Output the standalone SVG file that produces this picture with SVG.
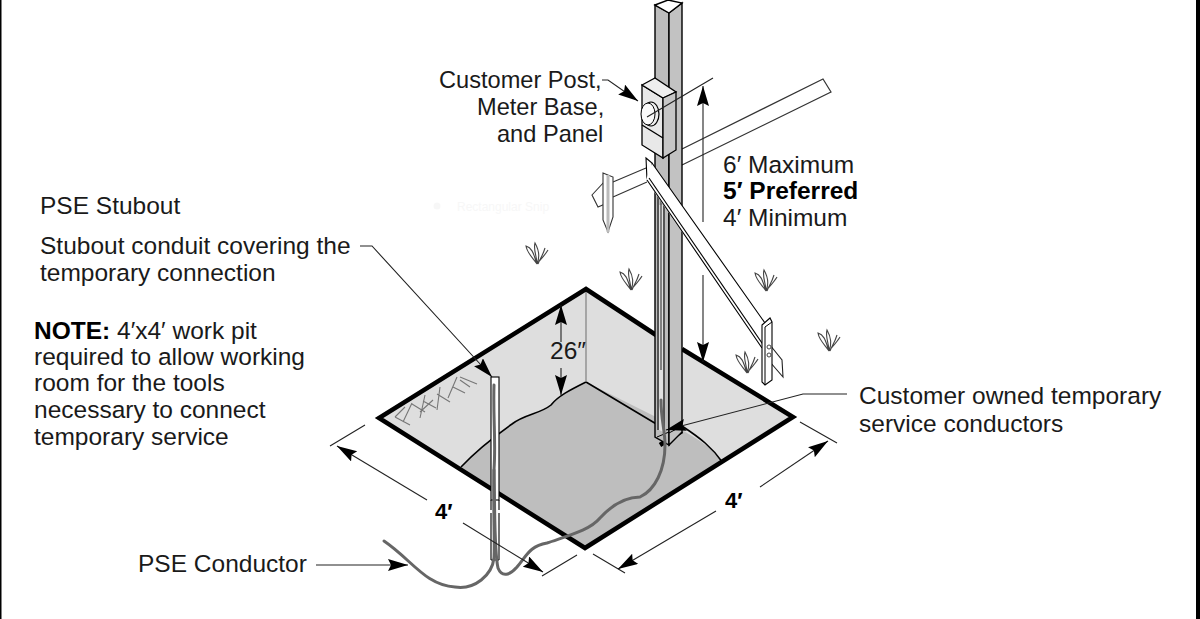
<svg xmlns="http://www.w3.org/2000/svg" width="1200" height="619" viewBox="0 0 1200 619">
<style>
text{font-family:"Liberation Sans",Arial,sans-serif;font-size:24.5px;fill:#1a1a1a}
.m{font-size:23.6px}
.b{font-weight:bold;fill:#000}
.k{fill:none;stroke:#000;stroke-width:1.4}
.d{fill:none;stroke:#222;stroke-width:1.1}
.e{fill:none;stroke:#000;stroke-width:4.5;stroke-linejoin:miter}
.w{fill:none;stroke:#666;stroke-width:3;stroke-linecap:round}
.g{fill:none;stroke:#777;stroke-width:1.1}
</style>
<defs>
<marker id="ah" markerUnits="userSpaceOnUse" markerWidth="22" markerHeight="14" refX="20" refY="6" orient="auto"><path d="M0 0L20 6L0 12L3 6Z" fill="#000"/></marker>
<g id="tuft"><path d="M-11-18C-10-11-4-6 0 0C-3-8-4-16-11-18ZM-2-21C2-14 3-7 0 0C0-8-4-14-2-21ZM11-14C8-9 4-5 0 0M8-16C6-9 3-5 1 0" fill="none" stroke="#444" stroke-width="1.1"/></g>
</defs>
<rect width="1200" height="619" fill="#fff"/>
<rect x="0" y="0" width="1.5" height="619" fill="#000"/>
<rect x="1196" y="0" width="4" height="619" fill="#000"/>
<g id="snip"><circle cx="437" cy="206" r="3.5" fill="#f7f7f7"/><text x="457" y="211" style="font-size:12px;fill:#f7f7f7">Rectangular Snip</text></g>
<g id="pit">
<path d="M586 289L379 418L585 548L793 417Z" fill="#dedede"/>
<path d="M586 382C570 390 558 396 551 405C540 414 525 414 512 424C495 436 475 452 461 467L585 548L723 463C710 445 695 438 682 430Z" fill="#bebebe" stroke="none"/>
<path d="M586 382C570 390 558 396 551 405C540 414 525 414 512 424C495 436 475 452 461 467M586 382L658 425M682 426C700 438 712 447 723 463" fill="none" stroke="#000" stroke-width="1.6"/>
<path d="M586 289V382" class="g"/>
<path d="M395 417L405 407M395 417L410 425M412 403L403 422M425 395L420 418M420 412L433 400M440 387L437 410M457 377L448 398M460 377L477 384M460 380L470 387M453 387L465 393M437 394L450 402M423 401L436 408M412 404L425 412" class="g"/>
<path d="M656 335L586 289L379 418L585 548L793 417L682 349M682 431L660 445" class="e"/>
</g>
<g id="tufts">
<use href="#tuft" x="537" y="264"/>
<use href="#tuft" x="631" y="290"/>
<use href="#tuft" x="766" y="291"/>
<use href="#tuft" x="829" y="351"/>
<use href="#tuft" x="747" y="373"/>
</g>
<g id="rail">
<path d="M682 165L831 92L823 79L682 149Z" fill="#fff" stroke="none"/>
<path d="M682 149L823 79L831 92L682 165" fill="none" stroke="#333" stroke-width="1.2"/>
<path d="M646 168L613 182V197L647 182Z" fill="#fff"/>
<path d="M646 168L613 182M647 182L613 197M605 181L592 195L598 207L605 204" fill="none" stroke="#333" stroke-width="1.1"/>
</g>
<g id="post">
<path d="M655 5L669 13V445L655 437Z" fill="#bdbdbd" stroke="#000" stroke-width="1.4"/>
<path d="M669 13L682 3V432L669 445Z" fill="#c2c2c2" stroke="#000" stroke-width="1.4"/>
<path d="M655 5L668 0L682 3L669 13Z" fill="#fff" stroke="#000" stroke-width="1.4"/>
<path d="M657 205H665V433L657 429Z" fill="#e0e0e0"/>
<path d="M658 180V430M664 180V434" fill="none" stroke="#555" stroke-width="2"/>
<path d="M661 180V370" fill="none" stroke="#222" stroke-width="1"/>
<path d="M669 433L682 426M657 437L669 432" fill="none" stroke="#000" stroke-width="1"/>
</g>
<g id="meter">
<path d="M642 85L663 98V158L642 145Z" fill="#e8e8e8" stroke="#000" stroke-width="1.3"/>
<path d="M642 85L655 78L676 92L663 98Z" fill="#eee" stroke="#000" stroke-width="1.3"/>
<path d="M663 98L676 92V150L663 158Z" fill="#c6c6c6" stroke="#000" stroke-width="1.3"/>
<path d="M642 125L663 138" class="k"/>
<ellipse cx="651" cy="114" rx="8" ry="12" fill="#eee" stroke="#000" stroke-width="1.2"/>
<ellipse cx="648" cy="114" rx="7" ry="11" fill="#fafafa" stroke="#000" stroke-width="1"/>
</g>
<g id="brace">
<path d="M646 158L652 163V183L647 180Z" fill="#fff" stroke="#000" stroke-width="1.1"/>
<path d="M652 163L646 180L762 348L770 330Z" fill="#fff" stroke="none"/>
<path d="M652 163L765 323M647 180L762 348" fill="none" stroke="#000" stroke-width="1.1"/>
<path d="M649 178L764 346" fill="none" stroke="#000" stroke-width="1.1"/>
<path d="M770 345L782 360L783 377L770 362" fill="#fff" stroke="#222" stroke-width="1.1"/>
<path d="M762 325L770 318L772 322V380L765 385L762 382Z" fill="#fff" stroke="#000" stroke-width="1.1"/>
<path d="M765 327V385M765 327L772 322" fill="none" stroke="#000" stroke-width="1"/>
<circle cx="769" cy="347" r="2" fill="none" stroke="#444"/><circle cx="769" cy="355" r="2" fill="none" stroke="#444"/>
<path d="M603 173L613 177V217L608 232L603 220Z" fill="#fff" stroke="#333" stroke-width="1.1"/>
<path d="M608 175V232" stroke="#bbb" fill="none" stroke-width="3"/>
</g>
<g id="stubout">
<rect x="491" y="377" width="8" height="123" fill="#fff" stroke="#000" stroke-width="1.1"/>
<path d="M491 500V510M499 500V510M491 513V560M499 513V560M491 560H499" fill="none" stroke="#000" stroke-width="1.1"/>
</g>
<g id="connectors">
<path class="w" d="M494 385C493 420 496 440 494 470C493 510 495 540 494 558C492 575 475 590 455 587C425 585 412 560 384 541"/>
<path class="w" d="M494 470C495 510 494 550 498 568C502 578 510 575 517 567C527 555 530 546 547 543C570 535 590 530 600 518C612 505 625 497 640 497C655 490 665 470 665 445C665 430 661 420 661 400"/>
<path class="d" d="M602 80H608L638 101" marker-end="url(#ah)"/>
<path class="d" d="M360 246H372L492 377" marker-end="url(#ah)"/>
<path class="d" d="M847 394H803L666 430" marker-end="url(#ah)"/>
<path class="d" d="M316 565H408" marker-end="url(#ah)"/>
<path class="d" d="M703 222V86" marker-end="url(#ah)"/>
<path class="d" d="M703 275V362" marker-end="url(#ah)"/>
<path class="d" d="M647 117L713 78"/>
<path class="d" d="M561 342V305" marker-end="url(#ah)"/>
<path class="d" d="M561 368V395" marker-end="url(#ah)"/>
<path class="d" d="M427 500L337 446" marker-end="url(#ah)"/>
<path class="d" d="M463 523L543 572" marker-end="url(#ah)"/>
<path class="d" d="M330 446L365 425M542 576L577 555M593 554L625 573M800 422L837 443"/>
<path class="d" d="M716 511L618 569" marker-end="url(#ah)"/>
<path class="d" d="M760 487L828 441" marker-end="url(#ah)"/>
</g>
<g id="labels">
<text x="439" y="88" class="m">Customer Post,</text>
<text x="477" y="115" class="m">Meter Base,</text>
<text x="497" y="142" class="m">and Panel</text>
<text x="723" y="173">6′ Maximum</text>
<text x="723" y="199" class="b">5′ Preferred</text>
<text x="723" y="226">4′ Minimum</text>
<text x="40" y="214">PSE Stubout</text>
<text x="40" y="254">Stubout conduit covering the</text>
<text x="40" y="281">temporary connection</text>
<text x="34" y="339"><tspan class="b">NOTE:</tspan> 4′x4′ work pit</text>
<text x="34" y="365">required to allow working</text>
<text x="34" y="391">room for the tools</text>
<text x="34" y="418">necessary to connect</text>
<text x="34" y="445">temporary service</text>
<text x="550" y="359">26″</text>
<text x="859" y="404">Customer owned temporary</text>
<text x="859" y="432">service conductors</text>
<text x="435" y="519" class="b" style="font-size:22px">4′</text>
<text x="725" y="508" class="b" style="font-size:22px">4′</text>
<text x="138" y="572">PSE Conductor</text>
</g>
</svg>
